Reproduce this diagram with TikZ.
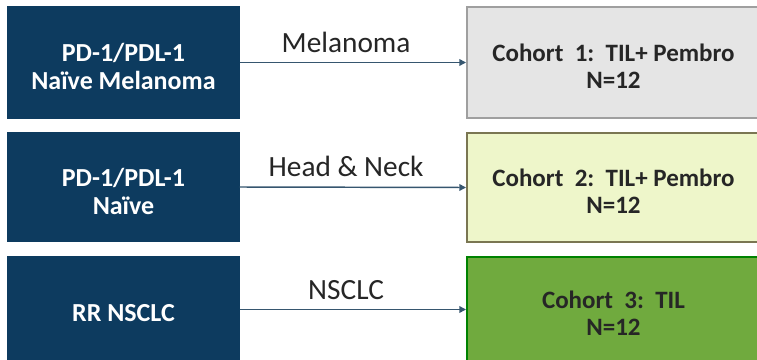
\documentclass[tikz,border=0pt]{standalone}
\usepackage{fontspec}
\setmainfont{Carlito}
\usetikzlibrary{arrows.meta}
\definecolor{navy}{HTML}{0D3B5F}
\definecolor{arrowc}{HTML}{36566F}
\definecolor{txt}{HTML}{262626}

\begin{document}
\begin{tikzpicture}[x=0.75pt,y=-0.75pt,line width=1.1pt,
  src/.style={fill=navy,draw=navy,minimum width=173.25pt,inner sep=0pt},
  srctext/.style={text=white,font=\bfseries\fontsize{19.5}{21}\selectfont,align=center,yshift=-3pt,inner sep=0pt},
  coh/.style={draw=#1,line width=1.5pt,minimum width=219.75pt,inner sep=0pt},
  cohtext/.style={text=txt,font=\bfseries\fontsize{18.75}{20}\selectfont,align=center,yshift=-3pt,inner sep=0pt},
  lab/.style={above=7pt,text=txt,font=\fontsize{22}{22}\selectfont,inner sep=0pt}]
\useasboundingbox (0,0) rectangle (757,360);
% left: patient groups
\node[src,minimum height=83.25pt,label={[srctext]center:{PD-1/PDL-1\\Naïve Melanoma}}] (s1) at (123.5,62.5) {};
\node[src,minimum height=81pt,label={[srctext]center:{PD-1/PDL-1\\Naïve}}] (s2) at (123.5,187) {};
\node[src,minimum height=78.75pt,label={[srctext]center:{RR NSCLC}}] (s3) at (123.5,309.5) {};
% right: cohorts
\node[coh=gray!75,fill=gray!20,minimum height=83.25pt,label={[cohtext]center:{Cohort\ \ 1:\ \ TIL+ Pembro\\N=12}}] (c1) at (613.5,62.5) {};
\node[coh={olive!40!gray!80!black},fill={rgb,255:red,238;green,246;blue,202},minimum height=81.75pt,label={[cohtext]center:{Cohort\ \ 2:\ \ TIL+ Pembro\\N=12}}] (c2) at (613.5,187.5) {};
\node[coh={green!30!black!70!green},fill={rgb,255:red,112;green,170;blue,62},minimum height=78.75pt,label={[cohtext]center:{Cohort\ \ 3:\ \ TIL\\N=12}}] (c3) at (613.5,309.5) {};
\foreach \a/\b/\t in {s1/c1/Melanoma,s2/c2/Head \& Neck,s3/c3/NSCLC}{
 \draw[arrowc,-{Triangle[length=5pt,width=5pt]}] (\a.east)--(\b.west) node[lab,pos=.47] {\t};
}
\end{tikzpicture}
\end{document}
